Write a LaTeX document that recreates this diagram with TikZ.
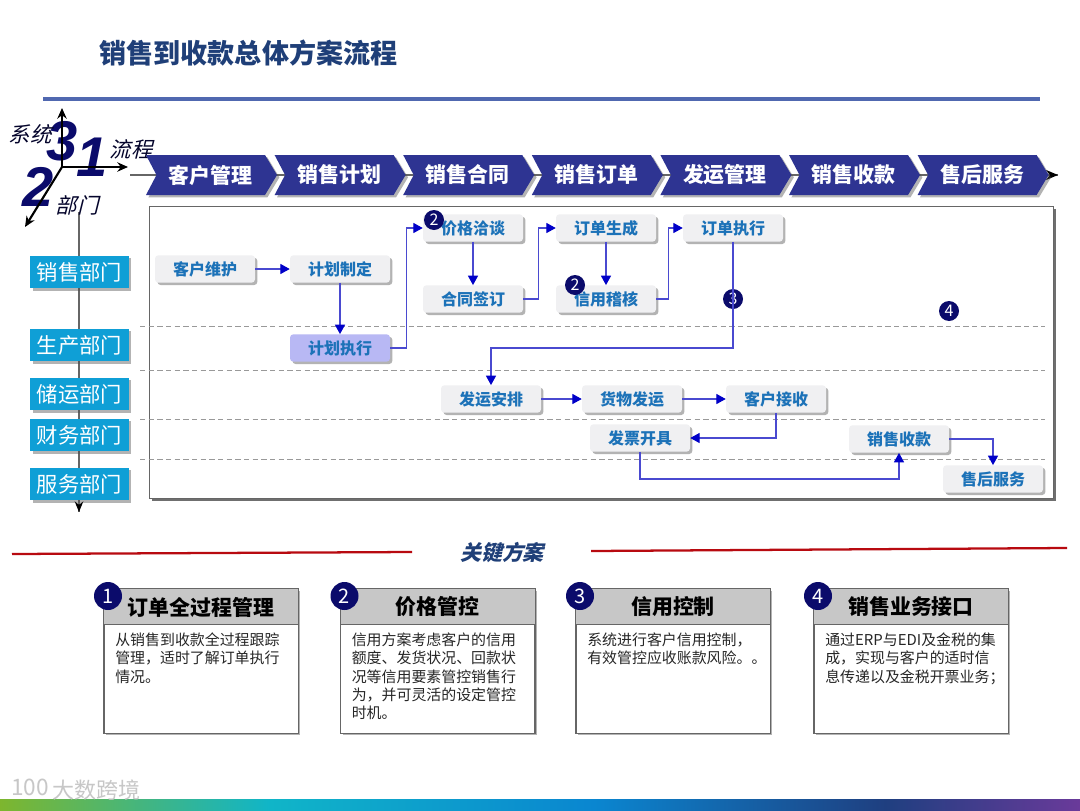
\documentclass[tikz,border=0pt]{standalone}
\usepackage{fontspec}
\setmainfont{Noto Sans CJK SC}
\newfontfamily\slantcjk[FakeSlant=0.25]{Noto Sans CJK SC}
\newfontfamily\bigdigit{Liberation Sans}
\usetikzlibrary{shadows,arrows.meta,calc}
\definecolor{navy}{HTML}{0B0B6B}
\definecolor{chev}{HTML}{2E3492}
\definecolor{titleblue}{HTML}{1F3F78}
\definecolor{rulec}{HTML}{5068B0}
\definecolor{deptc}{HTML}{0F9FD6}
\definecolor{stepc}{HTML}{F0F0F2}
\definecolor{steptxt}{HTML}{1C72B8}
\definecolor{linkc}{HTML}{4A4AD0}
\definecolor{tipc}{HTML}{0000C8}
\definecolor{redc}{HTML}{B80A10}
\definecolor{bandA}{HTML}{7DB62E}
\definecolor{bandB}{HTML}{10B5C8}
\definecolor{bandC}{HTML}{0A86D0}
\definecolor{bandD}{HTML}{1F3F80}
\definecolor{bandE}{HTML}{6A3A9A}
\pgfdeclarehorizontalshading{bandshade}{100bp}{
  color(0bp)=(bandA); color(25bp)=(bandA); color(37.5bp)=(bandB); color(52.5bp)=(bandC); color(66bp)=(bandD); color(75bp)=(bandE); color(100bp)=(bandE)}
\tikzset{
  softshadow/.style={drop shadow={shadow xshift=1.8pt,shadow yshift=-1.8pt,opacity=.42,fill=black!70}},
  stepbox/.style={rounded corners=2.5pt,fill=stepc,text=steptxt,minimum width=75pt,minimum height=20.5pt,inner sep=0pt,softshadow,font=\fontsize{12}{14}\selectfont\bfseries},
  deptbox/.style={fill=deptc,text=white,minimum width=74pt,minimum height=24.5pt,inner sep=0pt,softshadow,font=\fontsize{16}{19}\selectfont},
  link/.style={draw=linkc,line width=.85pt,-{Triangle[length=7pt,width=7.5pt,color=tipc]}},
  sepline/.style={draw=black!40,line width=.6pt,dash pattern=on 4pt off 2.5pt},
  axis/.style={draw=black,line width=1.6pt,-{Stealth[length=8pt,width=7pt]}},
  axistxt/.style={text=black!60!navy,inner sep=0pt,font=\fontsize{16}{18}\slantcjk},
  bigd/.style={text=navy,inner sep=0pt,font=\fontsize{42}{44}\bigdigit\bfseries\itshape},
  badge/.style={circle,fill=navy,text=white,minimum size=15pt,inner sep=0pt,font=\fontsize{12}{12}\selectfont},
  cardbadge/.style={circle,fill=navy,text=white,minimum size=21pt,inner sep=0pt,font=\fontsize{15}{15}\selectfont},
  chevtxt/.style={text=white,inner sep=0pt,font=\fontsize{15.7}{18}\selectfont\bfseries},
  cardhead/.style={text=black,inner sep=0pt,font=\fontsize{15.7}{18}\selectfont\bfseries},
  cardbody/.style={text=black!85,inner sep=0pt,align=left,anchor=north west,font=\fontsize{11.2}{13.75}\selectfont},
}
\begin{document}
\begin{tikzpicture}[x=0.75pt,y=-0.75pt]
\useasboundingbox (0,0) rectangle (1080,810);
\fill[white] (0,0) rectangle (1080,810);
% title
\node[text=titleblue,inner sep=0pt,font=\fontsize{20.3}{24}\selectfont\bfseries] (title) at (248.5,53) {销售到收款总体方案流程};
\coordinate (ruleL) at (43,99); \coordinate (ruleR) at (1040,99);
\draw[rulec,line width=2.4pt] (ruleL) -- (ruleR);
% dept axis
\coordinate (deptTop) at (79,212); \coordinate (deptEnd) at (79,512);
\draw[draw=black!60,line width=1pt] (deptTop) -- (deptEnd);
\draw[-{Stealth[length=8pt,width=6.5pt,color=black]},draw=black,line width=1pt] ($(deptEnd)+(0,-3)$) -- (deptEnd);
% flow line
\coordinate (flowL) at (130,175); \coordinate (flowR) at (1058,175);
\draw[draw=black!60,line width=1pt] (flowL) -- (flowR);
\draw[-{Stealth[length=9pt,width=7.5pt,color=black]},draw=black,line width=1pt] ($(flowR)+(-3,0)$) -- (flowR);
% big digits
\node[bigd] (d3) at (62,141) {3};
\node[bigd] (d1) at (92,157) {1};
\node[bigd] (d2) at (38,187) {2};
% axes
\coordinate (org) at (62,167);
\coordinate (axU) at (62,108); \coordinate (axR) at (128,167); \coordinate (axD) at (25,227);
\draw[axis] (org) -- (axU);
\draw[axis] (org) -- (axR);
\draw[axis] (org) -- (axD);
\node[axistxt] (sys) at (30,134) {系统};
\node[axistxt] (flw) at (131,149) {流程};
\node[axistxt] (dep) at (77,205) {部门};
% chevrons
\foreach \n [count=\i from 0] in {客户管理,销售计划,销售合同,销售订单,发运管理,销售收款,售后服务}{
  \pgfmathsetmacro{\xx}{146+128.6*\i}
  \fill[chev,softshadow] (\xx,195) -- (\xx+10.5,175) -- (\xx,155) -- (\xx+119,155) -- (\xx+131,175) -- (\xx+119,195) -- cycle;
  \node[chevtxt] (chev\i) at (\xx+64.5,175) {\n};
}
% frame
\node[draw=black!60,fill=white,line width=.7pt,minimum width=678pt,minimum height=219pt,inner sep=0pt,drop shadow={shadow xshift=2pt,shadow yshift=-2pt,opacity=.7,fill=black!80}] (frame) at (601,352) {};
% separators
\foreach \y/\m in {326/a,370/b,419/c,459/d}{
  \coordinate (sepL\m) at (140,\y); \coordinate (sepR\m) at (1045,\y);
  \draw[sepline] (sepL\m) -- (sepR\m);
}
% departments
\node[deptbox] (dA) at (79.5,272) {销售部门};
\node[deptbox] (dB) at (79.5,345) {生产部门};
\node[deptbox] (dC) at (79.5,394) {储运部门};
\node[deptbox] (dD) at (79.5,435) {财务部门};
\node[deptbox] (dE) at (79.5,484) {服务部门};
% steps
\node[stepbox] (kh) at (205,269) {客户维护};
\node[stepbox] (jz) at (340,269) {计划制定};
\node[stepbox,fill=black!15!blue!28!white] (jx) at (340,348) {计划执行};
\node[stepbox] (jg) at (473,228) {价格洽谈};
\node[stepbox] (ht) at (473,299) {合同签订};
\node[stepbox] (sc) at (606,228) {订单生成};
\node[stepbox] (xy) at (606,299) {信用稽核};
\node[stepbox] (zx) at (733,228) {订单执行};
\node[stepbox] (fy) at (491,399) {发运安排};
\node[stepbox] (hw) at (632,399) {货物发运};
\node[stepbox] (js) at (776,399) {客户接收};
\node[stepbox] (fp) at (640,438) {发票开具};
\node[stepbox] (sk) at (899,439) {销售收款};
\node[stepbox] (sh) at (993,479) {售后服务};
% badges in flow
\node[badge] (b2a) at (434,220) {2};
\node[badge] (b2b) at (575,285) {2};
\node[badge] (b3) at (733,299) {3};
\node[badge] (b4) at (949,311) {4};
% connectors
\draw[link] (kh) -- (jz);
\draw[link] (jz) -- (jx);
\draw[link] (jx.east) -- ++(16,0) |- (jg.west);
\draw[link] (jg) -- (ht);
\draw[link] (ht.east) -- ++(15,0) |- (sc.west);
\draw[link] (sc) -- (xy);
\draw[link] (xy.east) -- ++(12,0) |- (zx.west);
\draw[link] (zx.south) -- ++(0,106) -| (fy.north);
\draw[link] (fy) -- (hw);
\draw[link] (hw) -- (js);
\draw[link] (js.south) |- (fp.east);
\draw[link] (fp.south) -- ++(0,27) -| (sk.south);
\draw[link] (sk.east) -| (sh.north);
% key heading
\coordinate (r1a) at (12,554); \coordinate (r1b) at (412,552);
\coordinate (r2a) at (591,551); \coordinate (r2b) at (1067,548);
\draw[redc,line width=1.7pt] (r1a) -- (r1b);
\draw[redc,line width=1.7pt] (r2a) -- (r2b);
\node[text=titleblue,inner sep=0pt,font=\fontsize{15.7}{18}\slantcjk\bfseries] (key) at (502,553) {关键方案};
% cards
\foreach \cx/\nm/\num/\hd/\bd in {
 104/c1/1/订单全过程管理/{从销售到收款全过程跟踪\\管理，适时了解订单执行\\情况。},
 340.5/c2/2/价格管控/{信用方案考虑客户的信用\\额度、发货状况、回款状\\况等信用要素管控销售行\\为，并可灵活的设定管控\\时机。},
 576/c3/3/信用控制/{系统进行客户信用控制，\\有效管控应收账款风险。。},
 814/c4/4/销售业务接口/{通过ERP与EDI及金税的集\\成，实现与客户的适时信\\息传递以及金税开票业务；}}{
  \node[draw=black!60,fill=white,line width=.7pt,minimum width=145.5pt,minimum height=108pt,inner sep=0pt,softshadow] (\nm) at (\cx+97,661) {};
  \fill[black!22] (\nm.north west) rectangle ($(\nm.north east)+(0,36)$);
  \draw[black!60,line width=.7pt] (\nm.north west) rectangle (\nm.south east);
  \draw[black!60,line width=.7pt] ($(\nm.north west)+(0,36)$) -- ($(\nm.north east)+(0,36)$);
  \node[cardhead] at (\cx+97,607) {\hd};
  \node[cardbody] at (\cx+11,632.5) {\bd};
  \node[cardbadge] at (\cx+4,596) {\num};
}
% bottom band
\shade[shading=bandshade] (0,799) rectangle (1080,810);
% watermark
\node[text=black!22,inner sep=0pt,font=\fontsize{16.5}{19}\selectfont] (wm) at (96,790) {大数跨境};
\node[text=black!22,inner sep=0pt,font=\fontsize{17}{19}\selectfont] (logo) at (30,787) {100};
\end{tikzpicture}
\end{document}
